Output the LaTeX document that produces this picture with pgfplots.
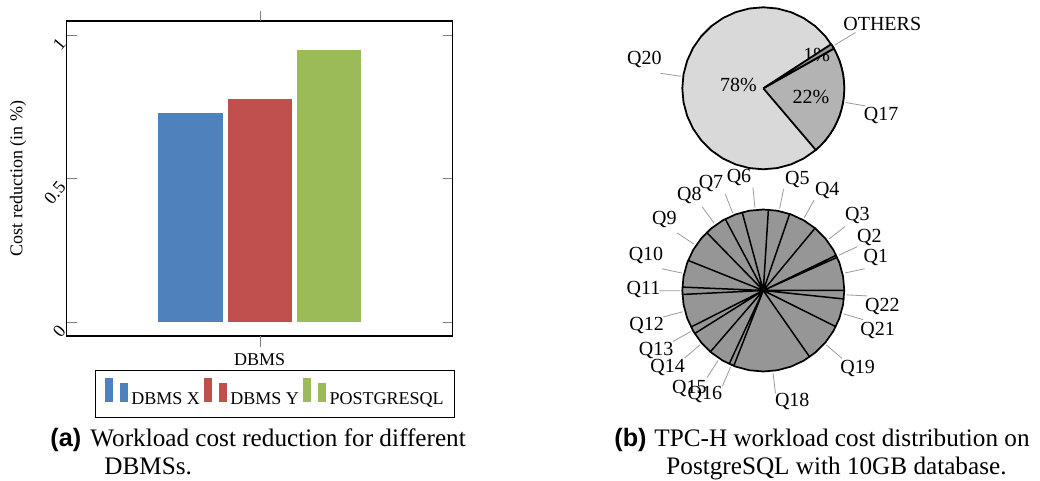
\documentclass[border=0pt]{standalone}
\usepackage{fontspec}
\setmainfont{Liberation Serif}
\newfontfamily\capsans{Liberation Sans}
\usepackage{pgfplots}
\pgfplotsset{compat=1.18}
\usepgfplotslibrary{polar}
\definecolor{cblue}{HTML}{4F81BD}
\definecolor{cred}{HTML}{C0504D}
\definecolor{cgreen}{HTML}{9BBB59}
\definecolor{pieA}{HTML}{D9D9D9}
\definecolor{pieB}{HTML}{B3B3B3}
\definecolor{pieC}{HTML}{969696}
\definecolor{leader}{HTML}{9A9A9A}
\pgfplotsset{
  mybarlegend/.style={legend image code/.code={
    \draw[fill=#1,draw=white,line width=0.3pt] (0pt,-1pt) rectangle (4.5pt,11.5pt);
    \draw[fill=#1,draw=white,line width=0.3pt] (7.5pt,-1pt) rectangle (12pt,8.65pt);}},
  mypie/.style={scale only axis, width=81pt, height=81pt,
    xmin=0, xmax=360, ymin=0, ymax=1, hide axis, clip=false,
    every node/.append style={font=\fontsize{7}{8}\selectfont, inner sep=0pt}},
}
\begin{document}
\begin{tikzpicture}
\path[use as bounding box] (0,0) rectangle (520pt,240.5pt);

% ---------- (a) bar chart ----------
\begin{axis}[
  at={(33.35pt,72.5pt)}, anchor=south west,
  scale only axis, width=193pt, height=157.5pt,
  xmin=-1, xmax=1, ymin=-0.048, ymax=1.049,
  xtick=\empty, ytick={0,0.5,1},
  tick align=inside, major tick length=5pt,
  ytick style={draw=gray, line width=0.4pt},
  /pgf/number format/assume math mode=true,
  y tick label style={rotate=50, anchor=east, font=\fontsize{9}{10}\selectfont},
  axis line style={line width=0.7pt},
  xlabel={DBMS},
  xlabel style={at={(axis description cs:0.5,0)}, anchor=north, yshift=-5.3pt, font=\fontsize{9}{10}\selectfont},
  ylabel={Cost reduction (in \%)},
  ylabel style={at={(axis description cs:0,0.5)}, anchor=center, yshift=24.35pt, font=\fontsize{9}{10}\selectfont},
  legend style={at={(0.54,-0.184)}, anchor=center, legend columns=-1,
    draw=black, line width=0.7pt, inner xsep=4pt, inner ysep=3pt,
    font=\fontsize{9}{10}\selectfont, nodes={inner xsep=1.5pt}},
]
\addplot[ybar, bar width=0.338, bar shift=-0.359, fill=cblue, draw=white, mybarlegend=cblue] coordinates {(0,0.730)};
\addplot[ybar, bar width=0.338, bar shift=0, fill=cred, draw=white, mybarlegend=cred] coordinates {(0,0.778)};
\addplot[ybar, bar width=0.338, bar shift=0.359, fill=cgreen, draw=white, mybarlegend=cgreen] coordinates {(0,0.951)};
\legend{DBMS X, DBMS Y, POSTGRESQL}
\end{axis}
\draw[gray, line width=0.4pt] (130pt,72.5pt) -- (130pt,67.2pt);
\draw[gray, line width=0.4pt] (130pt,230pt) -- (130pt,235.2pt);

% ---------- (b) top pie ----------
\begin{polaraxis}[mypie, at={(381.65pt,196.35pt)}, anchor=center]
\addplot[fill=pieA, draw=black, line width=0.9pt, line join=round, line cap=round] coordinates {
 (0,1)(10,1)(20,1)(30,1)(40,1)(50,1)(60,1)(70,1)(80,1)(90,1)(100,1)(110,1)(120,1)
 (130,1)(140,1)(150,1)(160,1)(170,1)(180,1)(190,1)(200,1)(210,1)(220,1)(230,1)(240,1)
 (250,1)(260,1)(270,1)(280,1)(290,1)(300,1)(310,1)(320,1)(330,1)(340,1)(350,1)(360,1)};
\addplot[fill=pieB, draw=black, line width=0.9pt, line join=round] coordinates {
 (0,0)(310.4,1)(315,1)(320,1)(325,1)(330,1)(335,1)(340,1)(345,1)(350,1)(355,1)(360,1)
 (5,1)(10,1)(15,1)(20,1)(25,1)(29.4,1)(0,0)};
\node at (axis cs:32.3,0.78) {1\%};
\addplot[fill=pieC, draw=black, line width=0.9pt, line join=round] coordinates {
 (0,0)(29.4,1)(31.2,1)(33,1)(0,0)};
\node at (axis cs:172.5,0.31) {78\%};
\node at (axis cs:349.3,0.60) {22\%};
\addplot[leader, line width=0.4pt] coordinates {(350.2,1.03)(350.2,1.28)};
\addplot[leader, line width=0.4pt] coordinates {(31.2,1.03)(31.2,1.33)};
\addplot[leader, line width=0.4pt] coordinates {(171.7,1.03)(171.7,1.28)};
\node at (axis cs:346.8,1.493) {Q17};
\node at (axis cs:28.3,1.668) {OTHERS};
\node at (axis cs:166.3,1.512) {Q20};
\end{polaraxis}

% ---------- (b) bottom pie ----------
\begin{polaraxis}[mypie, at={(381.65pt,95.25pt)}, anchor=center]
\addplot[fill=pieC, draw=black, line width=0.85pt, line join=round, line cap=round] coordinates {
 (0,1)(10,1)(20,1)(30,1)(40,1)(50,1)(60,1)(70,1)(80,1)(90,1)(100,1)(110,1)(120,1)
 (130,1)(140,1)(150,1)(160,1)(170,1)(180,1)(190,1)(200,1)(210,1)(220,1)(230,1)(240,1)
 (250,1)(260,1)(270,1)(280,1)(290,1)(300,1)(310,1)(320,1)(330,1)(340,1)(350,1)(360,1)};
\addplot[black, line width=0.75pt, line join=round] coordinates {
 (0,0)(0,1)(0,0)(24.2,1)(0,0)(25.8,1)(0,0)(50.3,1)(0,0)(71,1)(0,0)(86.4,1)
 (0,0)(105.1,1)(0,0)(118,1)(0,0)(134.3,1)(0,0)(158.2,1)(0,0)(177.6,1)
 (0,0)(182.8,1)(0,0)(206.8,1)(0,0)(212.1,1)(0,0)(229.2,1)(0,0)(245.1,1)
 (0,0)(248.6,1)(0,0)(304.9,1)(0,0)(333.5,1)(0,0)(354,1)(0,0)};
\addplot[leader, line width=0.4pt] coordinates {(12.1,1.03)(12.1,1.28)};
\addplot[leader, line width=0.4pt] coordinates {(25,1.03)(25,1.28)};
\addplot[leader, line width=0.4pt] coordinates {(38.05,1.03)(38.05,1.28)};
\addplot[leader, line width=0.4pt] coordinates {(60.65,1.03)(60.65,1.28)};
\addplot[leader, line width=0.4pt] coordinates {(78.7,1.03)(78.7,1.28)};
\addplot[leader, line width=0.4pt] coordinates {(95.75,1.03)(95.75,1.28)};
\addplot[leader, line width=0.4pt] coordinates {(111.55,1.03)(111.55,1.28)};
\addplot[leader, line width=0.4pt] coordinates {(126.15,1.03)(126.15,1.28)};
\addplot[leader, line width=0.4pt] coordinates {(146.25,1.03)(146.25,1.28)};
\addplot[leader, line width=0.4pt] coordinates {(167.9,1.03)(167.9,1.28)};
\addplot[leader, line width=0.4pt] coordinates {(180.2,1.03)(180.2,1.28)};
\addplot[leader, line width=0.4pt] coordinates {(194.8,1.03)(194.8,1.28)};
\addplot[leader, line width=0.4pt] coordinates {(209.45,1.03)(209.45,1.28)};
\addplot[leader, line width=0.4pt] coordinates {(220.65,1.03)(220.65,1.28)};
\addplot[leader, line width=0.4pt] coordinates {(237.15,1.03)(237.15,1.28)};
\addplot[leader, line width=0.4pt] coordinates {(246.85,1.03)(246.85,1.28)};
\addplot[leader, line width=0.4pt] coordinates {(276.75,1.03)(276.75,1.28)};
\addplot[leader, line width=0.4pt] coordinates {(319.2,1.03)(319.2,1.28)};
\addplot[leader, line width=0.4pt] coordinates {(343.75,1.03)(343.75,1.28)};
\addplot[leader, line width=0.4pt] coordinates {(357,1.03)(357,1.28)};
\node at (axis cs:16.2,1.448) {Q1};
\node at (axis cs:26.7,1.465) {Q2};
\node at (axis cs:38.6,1.485) {Q3};
\node at (axis cs:57.4,1.466) {Q4};
\node at (axis cs:73,1.436) {Q5};
\node at (axis cs:102.1,1.43) {Q6};
\node at (axis cs:116,1.473) {Q7};
\node at (axis cs:127.8,1.49) {Q8};
\node at (axis cs:144.5,1.5) {Q9};
\node at (axis cs:163.6,1.51) {Q10};
\node at (axis cs:179.3,1.48) {Q11};
\node at (axis cs:196.8,1.504) {Q12};
\node at (axis cs:209.4,1.52) {Q13};
\node at (axis cs:218.9,1.517) {Q14};
\node at (axis cs:232.9,1.514) {Q15};
\node at (axis cs:240.8,1.478) {Q16};
\node at (axis cs:284.6,1.419) {Q18};
\node at (axis cs:320.5,1.51) {Q19};
\node at (axis cs:340.9,1.494) {Q21};
\node at (axis cs:352.2,1.483) {Q22};
\end{polaraxis}

% ---------- captions ----------
\node[anchor=base west, inner sep=0pt, font=\fontsize{12.6}{15}\selectfont] at (25pt,17pt)
  {\capsans\bfseries (a)};
\node[anchor=base west, inner sep=0pt, font=\fontsize{12.6}{15}\selectfont] at (45pt,17pt)
  {Workload cost reduction for different};
\node[anchor=base west, inner sep=0pt, font=\fontsize{12.6}{15}\selectfont] at (52pt,3pt) {DBMSs.};
\node[anchor=base west, inner sep=0pt, font=\fontsize{12.6}{15}\selectfont] at (307pt,17pt)
  {\capsans\bfseries (b)};
\node[anchor=base west, inner sep=0pt, font=\fontsize{12.6}{15}\selectfont] at (327pt,17pt)
  {TPC-H workload cost distribution on};
\node[anchor=base west, inner sep=0pt, font=\fontsize{12.6}{15}\selectfont] at (333pt,3pt) {PostgreSQL with 10GB database.};
\end{tikzpicture}
\end{document}
